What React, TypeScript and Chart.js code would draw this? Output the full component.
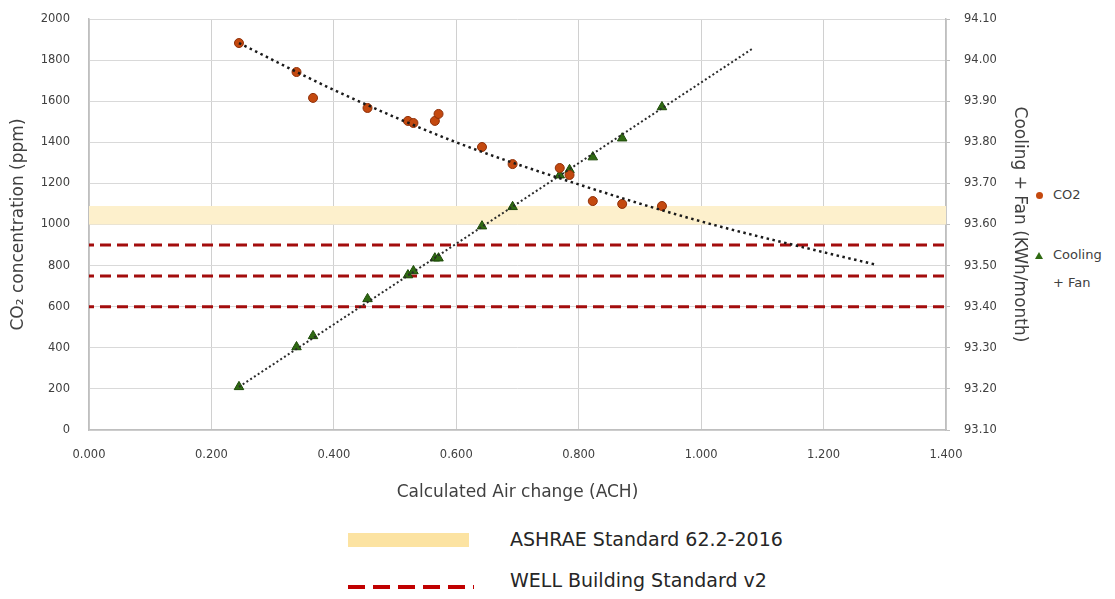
import React, { useEffect, useRef } from "react";
import { Chart, registerables } from "chart.js";

Chart.register(...registerables);

// ---- data ----
const achValues = [0.245, 0.339, 0.366, 0.455, 0.521, 0.530, 0.565, 0.571, 0.642, 0.692, 0.769, 0.785, 0.823, 0.871, 0.936];
const co2Values = [1883, 1742, 1616, 1567, 1504, 1494, 1504, 1538, 1377, 1294, 1275, 1241, 1114, 1100, 1090];
const coolingValues = [93.205, 93.302, 93.329, 93.419, 93.477, 93.487, 93.518, 93.518, 93.596, 93.643, 93.72, 93.733, 93.764, 93.81, 93.886];

const co2TrendX = [0.245, 0.4, 0.6, 0.8, 1.0, 1.2, 1.285];
const co2TrendY = [1883, 1655, 1400, 1195, 1015, 865, 805];
const coolingTrendX = [0.245, 1.086];
const coolingTrendY = [93.205, 94.03];

const ashraeBand = [1000, 1090];
const wellLevels = [900, 750, 600];

const xRange = [0, 1.4, 0.2];
const co2Range = [0, 2000, 200];
const energyRange = [93.1, 94.1, 0.1];

const xTitle = "Calculated Air change (ACH)";
const yTitle = "CO\u2082 concentration (ppm)";
const y1Title = "Cooling + Fan (KWh/month)";
const seriesLabels = ["CO2", "Cooling", "+ Fan"];
const standardLabels = ["ASHRAE Standard 62.2-2016", "WELL Building Standard v2"];

const FONT = "'DejaVu Sans', sans-serif";
const TEXT = "#404040";

const pts = (xs: number[], ys: number[]) => xs.map((x, i) => ({ x, y: ys[i] }));
const span = (v: number) => [
  { x: xRange[0], y: v },
  { x: xRange[1], y: v },
];

export default function App() {
  const ref = useRef<HTMLCanvasElement | null>(null);

  useEffect(() => {
    if (!ref.current) return;
    Chart.defaults.font.family = FONT;
    const chart = new Chart(ref.current, {
      type: "scatter",
      data: {
        datasets: [
          {
            type: "line",
            label: "ASHRAE",
            data: span(ashraeBand[1]),
            borderWidth: 0,
            borderColor: "rgba(0,0,0,0)",
            pointRadius: 0,
            fill: { value: ashraeBand[0] },
            backgroundColor: "#FDF0CC",
            yAxisID: "y",
            order: 10,
          } as any,
          ...wellLevels.map(
            (v) =>
              ({
                type: "line",
                label: "WELL " + v,
                data: span(v),
                borderColor: "#A30D0D",
                borderWidth: 3,
                borderDash: [11, 6],
                borderDashOffset: 6,
                pointRadius: 0,
                fill: false,
                yAxisID: "y",
                order: 9,
              } as any)
          ),
          {
            type: "line",
            label: "CO2 trend",
            data: pts(co2TrendX, co2TrendY),
            borderColor: "#1A1A1A",
            borderWidth: 2.5,
            borderDash: [2.5, 3.5],
            cubicInterpolationMode: "monotone",
            pointRadius: 0,
            fill: false,
            yAxisID: "y",
            order: 0,
          } as any,
          {
            type: "line",
            label: "Cooling trend",
            data: pts(coolingTrendX, coolingTrendY),
            borderColor: "#2A2A2A",
            borderWidth: 2,
            borderDash: [2, 2.5],
            pointRadius: 0,
            fill: false,
            yAxisID: "y1",
            order: 0,
          } as any,
          {
            label: "CO2",
            data: pts(achValues, co2Values),
            pointStyle: "circle",
            pointRadius: 4.5,
            backgroundColor: "#C4490F",
            borderColor: "#8E2F08",
            borderWidth: 1,
            yAxisID: "y",
            order: 1,
          },
          {
            label: "Cooling + Fan",
            data: pts(achValues, coolingValues),
            pointStyle: "triangle",
            pointRadius: 5.5,
            backgroundColor: "#2F6A12",
            borderColor: "#1D4A08",
            borderWidth: 1,
            yAxisID: "y1",
            order: 1,
          },
        ],
      },
      options: {
        animation: false,
        responsive: false,
        events: [],
        layout: { padding: { left: 4, top: 19, right: 0, bottom: 0 } },
        plugins: { legend: { display: false }, tooltip: { enabled: false } },
        scales: {
          x: {
            type: "linear",
            min: xRange[0],
            max: xRange[1],
            afterFit: (s: any) => {
              s.height = 77;
              s.paddingLeft = 0;
              s.paddingRight = 0;
            },
            ticks: {
              stepSize: xRange[2],
              padding: 18,
              color: TEXT,
              font: { size: 11.5, family: FONT },
              callback: (v: any) => Number(v).toFixed(3),
            },
            grid: { color: "#D0D0D0", drawTicks: false, lineWidth: 1 },
            border: { color: "#BFBFBF", width: 1.5 },
            title: {
              display: true,
              text: xTitle,
              color: TEXT,
              font: { size: 17, family: FONT },
            },
          },
          y: {
            type: "linear",
            position: "left",
            min: co2Range[0],
            max: co2Range[1],
            afterFit: (s: any) => {
              s.width = 85;
              s.paddingTop = 0;
              s.paddingBottom = 0;
            },
            ticks: {
              stepSize: co2Range[2],
              padding: 19,
              color: TEXT,
              font: { size: 11.5, family: FONT },
              callback: (v: any) => String(Math.round(Number(v))),
            },
            grid: { color: "#D9D9D9", drawTicks: false, lineWidth: 1 },
            border: { color: "#BFBFBF", width: 1.5 },
            title: {
              display: true,
              text: yTitle,
              color: TEXT,
              font: { size: 17, family: FONT },
            },
          },
          y1: {
            type: "linear",
            position: "right",
            min: energyRange[0],
            max: energyRange[1],
            afterFit: (s: any) => {
              s.width = 88;
              s.paddingTop = 0;
              s.paddingBottom = 0;
            },
            ticks: {
              stepSize: energyRange[2],
              padding: 14,
              color: TEXT,
              font: { size: 11.5, family: FONT },
              callback: (v: any) => Number(v).toFixed(2),
            },
            grid: { drawOnChartArea: false, drawTicks: true, tickLength: 4, color: "#BFBFBF" },
            border: { color: "#BFBFBF", width: 1.5 },
            title: {
              display: true,
              text: y1Title,
              color: TEXT,
              font: { size: 17, family: FONT },
            },
          },
        },
      } as any,
    });
    return () => chart.destroy();
  }, []);

  const txt: React.CSSProperties = {
    position: "absolute",
    fontFamily: FONT,
    color: "#262626",
    whiteSpace: "nowrap",
  };

  return (
    <div style={{ position: "fixed", left: 0, top: 0, width: 1115, height: 599, background: "#fff" }}>
      <canvas ref={ref} width={1034} height={507} style={{ position: "absolute", left: 0, top: 0 }} />

      {/* right legend */}
      <div style={{ position: "absolute", left: 1036, top: 192, width: 7, height: 7, borderRadius: "50%", background: "#C4490F" }} />
      <div style={{ ...txt, left: 1053, top: 187, fontSize: 13, lineHeight: "16px", color: TEXT }}>{seriesLabels[0]}</div>
      <div
        style={{
          position: "absolute",
          left: 1035,
          top: 252,
          width: 0,
          height: 0,
          borderLeft: "4px solid transparent",
          borderRight: "4px solid transparent",
          borderBottom: "7px solid #2F6A12",
        }}
      />
      <div style={{ ...txt, left: 1053, top: 247, fontSize: 13, lineHeight: "16px", color: TEXT }}>{seriesLabels[1]}</div>
      <div style={{ ...txt, left: 1053, top: 275, fontSize: 13, lineHeight: "16px", color: TEXT }}>{seriesLabels[2]}</div>

      {/* bottom legend */}
      <div style={{ position: "absolute", left: 348, top: 533, width: 121, height: 14, background: "#FCE3A2" }} />
      <div style={{ ...txt, left: 510, top: 527, fontSize: 19, lineHeight: "24px" }}>{standardLabels[0]}</div>
      <svg style={{ position: "absolute", left: 348, top: 583 }} width={126} height={8}>
        <line x1={0} y1={4} x2={126} y2={4} stroke="#C00000" strokeWidth={4} strokeDasharray="17 8" />
      </svg>
      <div style={{ ...txt, left: 510, top: 568, fontSize: 19, lineHeight: "24px" }}>{standardLabels[1]}</div>
    </div>
  );
}
